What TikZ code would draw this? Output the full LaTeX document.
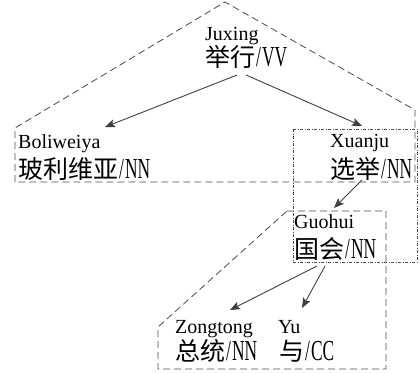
\documentclass[tikz,border=0pt]{standalone}
\usepackage{fontspec}
\setmainfont{Liberation Serif}
\newfontfamily\cjkfont{Noto Sans CJK SC}
\newfontfamily\narrowfont[FakeStretch=0.6]{Liberation Serif}
\usetikzlibrary{arrows.meta,calc}
\newcommand\zhtag[2]{{\cjkfont\fontsize{25}{25}\selectfont #1}\kern1pt{\narrowfont\fontsize{29}{29}\selectfont /\kern1pt#2}}
\tikzset{
  lat/.style={anchor=base west, inner sep=0pt, font=\fontsize{20}{20}\selectfont},
  zh/.style={anchor=base west, inner sep=0pt},
  outline/.style={draw=black!70, dash pattern=on 7pt off 4pt, line width=0.8pt},
  dashdotbox/.style={draw=black!70, dash pattern=on 3pt off 1.5pt on 1pt off 1.5pt, line width=0.7pt},
  arr/.style={draw=black!75, line width=0.9pt, -{Stealth[length=10pt,width=8pt,inset=2pt]}}
}
\begin{document}
\begin{tikzpicture}[x=1pt,y=-1pt]
\useasboundingbox (0,0) rectangle (420,373);
% regions
\draw[outline] (15,182) -- (15,128) -- (225,2) -- (415,110) -- (415,182) -- cycle;
\draw[dashdotbox] (293,129) rectangle (417,262);
\draw[outline] (287,211) -- (386,211) -- (386,369) -- (158,369) -- (158,327) -- cycle;
% words
\node[lat] (jx1) at (205,40) {Juxing};
\node[zh]  (jx2) at (205,66) {\zhtag{举行}{VV}};
\node[lat] (bl1) at (18,148) {Boliweiya};
\node[zh]  (bl2) at (18,178) {\zhtag{玻利维亚}{NN}};
\node[lat] (xj1) at (330,147) {Xuanju};
\node[zh]  (xj2) at (330,178) {\zhtag{选举}{NN}};
\node[lat] (gh1) at (294,228) {Guohui};
\node[zh]  (gh2) at (294,258) {\zhtag{国会}{NN}};
\node[lat] (zt1) at (175,333) {Zongtong};
\node[zh]  (zt2) at (175,360) {\zhtag{总统}{NN}};
\node[lat] (yu1) at (278,333) {Yu};
\node[zh]  (yu2) at (279,360) {\zhtag{与}{CC}};
% dependencies
\draw[arr] ($(jx2.base west)+(32,9)$) -- ($(bl1.base west)+(87,-21)$);
\draw[arr] ($(jx2.base west)+(41,9)$) -- ($(xj1.base west)+(32,-21)$);
\draw[arr] ($(xj2.base west)+(32,2)$) -- ($(gh1.base west)+(40,-20)$);
\draw[arr] ($(gh2.base west)+(23,8)$) -- ($(zt1.base west)+(55,-23)$);
\draw[arr] ($(gh2.base west)+(31,8)$) -- ($(yu1.base west)+(24,-25)$);
\end{tikzpicture}
\end{document}
